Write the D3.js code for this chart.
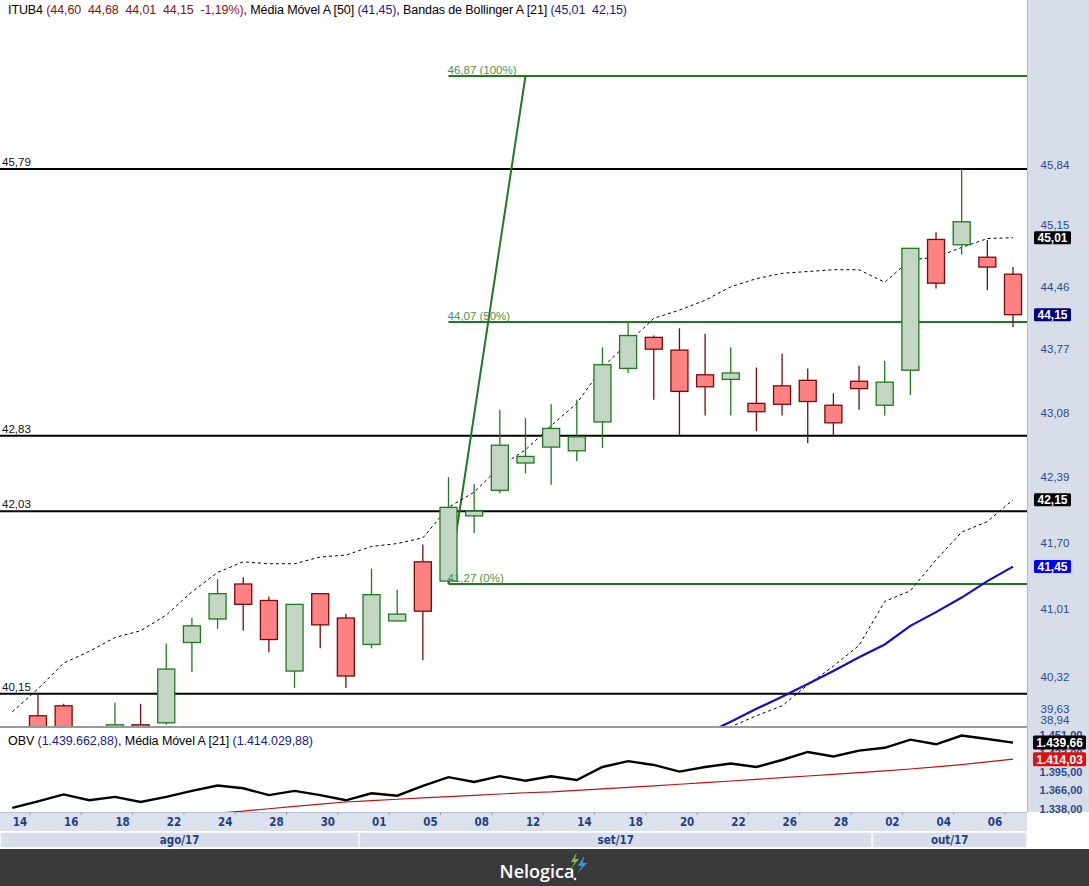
<!DOCTYPE html>
<html><head><meta charset="utf-8">
<script src="https://cdn.jsdelivr.net/npm/d3@7"></script>
<style>body{margin:0;background:#fff;} svg{display:block;}</style>
</head><body><div id="chart"></div>
<script>
// ---------------- DATA ----------------
const dates = ["2017-08-11","2017-08-14","2017-08-15","2017-08-16","2017-08-17","2017-08-18","2017-08-21","2017-08-22","2017-08-23","2017-08-24","2017-08-25","2017-08-28","2017-08-29","2017-08-30","2017-08-31","2017-09-01","2017-09-04","2017-09-05","2017-09-06","2017-09-08","2017-09-11","2017-09-12","2017-09-13","2017-09-14","2017-09-15","2017-09-18","2017-09-19","2017-09-20","2017-09-21","2017-09-22","2017-09-25","2017-09-26","2017-09-27","2017-09-28","2017-09-29","2017-10-02","2017-10-03","2017-10-04","2017-10-05","2017-10-06"];
const openV  = [null,39.93,40.03,39.74,39.70,39.84,39.86,40.67,40.91,41.27,41.10,40.38,41.17,40.92,40.65,40.89,41.50,41.30,41.98,42.25,42.54,42.71,42.67,42.98,43.56,43.90,43.76,43.49,43.44,43.18,43.37,43.43,43.16,43.42,43.16,43.54,44.99,44.93,44.79,44.60];
const highV  = [null,40.15,40.05,39.80,40.06,40.05,40.66,40.92,41.32,41.34,41.14,41.06,41.17,40.96,41.43,41.21,41.68,42.39,42.32,43.11,43.02,43.17,43.22,43.79,44.07,43.92,44.00,43.94,43.79,43.57,43.72,43.56,43.29,43.59,43.64,44.89,45.07,45.79,44.98,44.68];
const lowV   = [null,39.55,39.60,39.50,39.62,39.60,39.84,40.37,40.81,40.79,40.57,40.21,40.61,40.21,40.61,40.89,40.49,41.27,41.80,42.22,42.43,42.31,42.56,42.70,43.51,43.22,42.84,43.05,43.05,42.88,43.05,42.75,42.84,43.11,43.05,43.27,44.44,44.82,44.42,44.01];
const closeV = [null,39.68,39.72,39.62,39.84,39.66,40.40,40.84,41.17,41.06,40.70,41.06,40.85,40.33,41.16,40.96,40.99,42.07,42.03,42.73,42.61,42.91,42.82,43.60,43.92,43.77,43.31,43.36,43.51,43.09,43.17,43.20,42.97,43.34,43.41,44.89,44.50,45.19,44.68,44.15];
const bbUpper = [39.97,40.20,40.46,40.58,40.72,40.79,40.95,41.19,41.39,41.50,41.48,41.48,41.55,41.57,41.66,41.69,41.75,42.07,42.23,42.50,42.68,42.94,43.18,43.57,43.84,44.11,44.20,44.31,44.46,44.55,44.61,44.63,44.65,44.65,44.51,44.76,44.79,44.90,45.00,45.01];
const bbLower = [null,null,null,null,null,null,null,null,null,null,null,null,null,null,null,null,null,null,null,null,null,null,null,null,null,null,null,39.64,39.82,39.93,40.03,40.24,40.43,40.64,41.09,41.20,41.52,41.81,41.92,42.15];
const ma50    = [null,null,null,null,null,null,null,null,null,null,null,null,null,null,null,null,null,null,null,null,null,null,null,null,null,null,null,39.75,39.87,40.00,40.12,40.25,40.38,40.52,40.65,40.84,40.98,41.13,41.30,41.45];
// OBV in thousands
const obv   = [1339.2,1349.2,1359.8,1350.8,1356.1,1348.2,1356.1,1365.3,1373.6,1369.3,1358.8,1365.2,1358.8,1350.8,1361.5,1357.8,1373.0,1386.4,1379.0,1387.9,1381.0,1387.8,1382.1,1402.1,1411.0,1405.2,1395.0,1402.1,1407.5,1402.1,1412.8,1425.2,1418.2,1427.3,1431.6,1444.1,1437.0,1450.5,1445.2,1439.66];
const obvMa = [null,null,null,null,null,null,null,null,1331.0,1334.1,1337.8,1341.3,1345.0,1348.2,1350.4,1352.4,1354.4,1356.4,1358.4,1360.5,1362.4,1363.6,1366.1,1368.4,1370.7,1373.0,1375.5,1377.9,1380.5,1383.0,1385.6,1388.2,1390.7,1393.5,1396.1,1399.0,1402.1,1405.6,1409.8,1414.03];

const levelLines = [45.79, 42.83, 42.03, 40.15];
const fibValues = [41.27, 44.07, 46.87];
const fibPercents = ["0%", "50%", "100%"];
const fibStartDate = "2017-09-05", fibEndDate = "2017-09-11";
const priceTicks = [45.84, 45.15, 44.46, 43.77, 43.08, 42.39, 41.70, 41.01, 40.32, 39.63, 38.94];
const obvTicks = [1451, 1423, 1395, 1366, 1338];
const dayTickDates = ["2017-08-14","2017-08-16","2017-08-18","2017-08-22","2017-08-24","2017-08-28","2017-08-30","2017-09-01","2017-09-05","2017-09-08","2017-09-12","2017-09-14","2017-09-18","2017-09-20","2017-09-22","2017-09-26","2017-09-28","2017-10-02","2017-10-04","2017-10-06"];
const monthLabels = ["ago/17", "set/17", "out/17"];
const monthStarts = ["2017-08-11", "2017-09-01", "2017-10-02"];
const headerMain = [["ITUB4 ","#000"],["(44,60  44,68  44,01  44,15  -1,19%)","#8b1010"],[", Média Móvel A [50] ","#000"],["(41,45)","#1a1a8c"],[", Bandas de Bollinger A [21] ","#000"],["(45,01  42,15)","#1a1a8c"]];
const headerObv = [["OBV ","#000"],["(1.439.662,88)","#1a1a8c"],[", Média Móvel A [21] ","#000"],["(1.414.029,88)","#1a1a8c"]];

// ---------------- LAYOUT ----------------
const W = 1089, H = 886;
const plotR = 1027;
const mainTop = 20, mainBot = 726;
const obvTop = 728, obvBot = 812;
const font = "Liberation Sans, Arial, sans-serif";
const condFont = "DejaVu Sans Condensed, Liberation Sans Narrow, Arial Narrow, sans-serif";

const loc = d3.formatLocale({decimal: ",", thousands: ".", grouping: [3], currency: ["R$", ""]});
const f2 = loc.format(".2f");
const fk = loc.format(",.2f");

const svg = d3.select("#chart").append("svg").attr("width", W).attr("height", H)
  .style("font-family", font);

const x = d3.scalePoint().domain(dates).range([12.3, 1013]);
const y = d3.scaleLog().domain([41.27, 46.87]).range([584, 76]);
const yo = d3.scaleLinear().domain([1338, 1451]).range([808.6, 735.2]);

// backgrounds
svg.append("rect").attr("x", 0).attr("y", 0).attr("width", W).attr("height", H).attr("fill", "#fff");
svg.append("rect").attr("x", plotR).attr("y", 0).attr("width", W - plotR).attr("height", obvBot).attr("fill", "#d7dde9");
svg.append("line").attr("x1", plotR + 0.5).attr("x2", plotR + 0.5).attr("y1", 0).attr("y2", obvBot).attr("stroke", "#b4bccb");

const defs = svg.append("defs");
defs.append("clipPath").attr("id", "clipMain").append("rect").attr("x", 0).attr("y", mainTop).attr("width", plotR).attr("height", mainBot - mainTop);
defs.append("clipPath").attr("id", "clipObv").append("rect").attr("x", 0).attr("y", obvTop).attr("width", plotR).attr("height", obvBot - obvTop);

const idx = d3.range(dates.length);
const gMain = svg.append("g").attr("clip-path", "url(#clipMain)");

// horizontal level lines
levelLines.forEach(v => {
  gMain.append("line").attr("x1", 0).attr("x2", plotR).attr("y1", y(v)).attr("y2", y(v))
    .attr("stroke", "#000").attr("stroke-width", 2);
  svg.append("text").attr("x", 2).attr("y", y(v) - 3).attr("font-size", 11.5).attr("fill", "#111").text(f2(v));
});

// fibonacci
const fx0 = x(fibStartDate), fx1 = x(fibEndDate);
fibValues.forEach((v, i) => {
  gMain.append("line").attr("x1", fx0).attr("x2", plotR).attr("y1", y(v)).attr("y2", y(v))
    .attr("stroke", "#1f7a1f").attr("stroke-width", 2);
  svg.append("text").attr("x", fx0 - 1).attr("y", y(v) - 2).attr("font-size", 11.5).attr("fill", "#4a944a")
    .text(`${f2(v)} (${fibPercents[i]})`);
});
gMain.append("line").attr("x1", fx0).attr("y1", y(fibValues[0])).attr("x2", fx1).attr("y2", y(fibValues[2]))
  .attr("stroke", "#1f7a1f").attr("stroke-width", 2);

// Bollinger upper / lower (dashed)
const lineP = arr => d3.line().defined(i => arr[i] != null).x(i => x(dates[i])).y(i => y(arr[i]));
gMain.append("path").attr("d", lineP(bbUpper)(idx)).attr("fill", "none").attr("stroke", "#000")
  .attr("stroke-width", 1).attr("stroke-dasharray", "3,3");
gMain.append("path").attr("d", lineP(bbLower)(idx)).attr("fill", "none").attr("stroke", "#000")
  .attr("stroke-width", 1).attr("stroke-dasharray", "3,3");

// candles
const bw = 17;
const cg = gMain.selectAll("g.c").data(idx.filter(i => openV[i] != null)).join("g");
cg.append("line").attr("x1", i => x(dates[i])).attr("x2", i => x(dates[i]))
  .attr("y1", i => y(highV[i])).attr("y2", i => y(lowV[i]))
  .attr("stroke", i => closeV[i] >= openV[i] ? "#1f7a1f" : "#7a0a0a").attr("stroke-width", 1.3);
cg.append("rect").attr("x", i => x(dates[i]) - bw / 2)
  .attr("y", i => y(Math.max(openV[i], closeV[i])))
  .attr("width", bw)
  .attr("height", i => Math.max(1, y(Math.min(openV[i], closeV[i])) - y(Math.max(openV[i], closeV[i]))))
  .attr("fill", i => closeV[i] >= openV[i] ? "#c3d6c3" : "#ff8282")
  .attr("stroke", i => closeV[i] >= openV[i] ? "#1f7a1f" : "#7a0a0a").attr("stroke-width", 1.3);

// MA50
gMain.append("path").attr("d", lineP(ma50)(idx)).attr("fill", "none").attr("stroke", "#1010c8").attr("stroke-width", 2.2);

// header
const ht = svg.append("text").attr("x", 8).attr("y", 14).attr("font-size", 12.5)
  .attr("textLength", 619).attr("lengthAdjust", "spacing").style("white-space", "pre");
headerMain.forEach(([t, c]) => ht.append("tspan").attr("fill", c).text(t));

// price axis labels
const nT = priceTicks.length;
priceTicks.forEach((v, i) => {
  const yy = Math.min(y(v) + 4, 724 - (nT - 1 - i) * 11);
  svg.append("text").attr("x", 1055).attr("y", yy).attr("text-anchor", "middle")
    .attr("font-size", 11.5).attr("fill", "#2a4c8c").text(f2(v));
});
// price badges
const last = dates.length - 1;
const badges = [[bbUpper[last], "#000"], [closeV[last], "#000080"], [bbLower[last], "#000"], [ma50[last], "#0000ff"]];
badges.forEach(([v, c]) => {
  svg.append("rect").attr("x", 1034).attr("y", y(v) - 6.5).attr("width", 37).attr("height", 13).attr("rx", 1.5).attr("fill", c);
  svg.append("text").attr("x", 1052.5).attr("y", y(v) + 4.5).attr("text-anchor", "middle").attr("font-size", 12)
    .attr("font-weight", "bold").attr("fill", "#fff").text(f2(v));
});

// separator
svg.append("line").attr("x1", 0).attr("x2", plotR).attr("y1", 727).attr("y2", 727).attr("stroke", "#9a9a9a").attr("stroke-width", 2);

// OBV panel
const gObv = svg.append("g").attr("clip-path", "url(#clipObv)");
const lineO = arr => d3.line().defined(i => arr[i] != null).x(i => x(dates[i])).y(i => yo(arr[i]));
gObv.append("path").attr("d", lineO(obvMa)(idx)).attr("fill", "none").attr("stroke", "#c01010").attr("stroke-width", 1.2);
gObv.append("path").attr("d", lineO(obv)(idx)).attr("fill", "none").attr("stroke", "#000").attr("stroke-width", 2.4);
const ho = svg.append("text").attr("x", 8).attr("y", 745).attr("font-size", 12.5)
  .attr("textLength", 305).attr("lengthAdjust", "spacing");
headerObv.forEach(([t, c]) => ho.append("tspan").attr("fill", c).text(t));

// OBV tick labels (the ones behind the badges are partly hidden, as in the original)
obvTicks.forEach(v => {
  svg.append("text").attr("x", 1061).attr("y", yo(v) + 4).attr("text-anchor", "middle").attr("font-size", 11)
    .attr("font-weight", "bold").attr("fill", "#2a4c8c").text(fk(v));
});
[[obv[last], "#000"], [obvMa[last], "#e01010"]].forEach(([v, c]) => {
  svg.append("rect").attr("x", 1033).attr("y", yo(v) - 7).attr("width", 53).attr("height", 14).attr("rx", 1.5).attr("fill", c);
  svg.append("text").attr("x", 1059.5).attr("y", yo(v) + 4.5).attr("text-anchor", "middle").attr("font-size", 12)
    .attr("font-weight", "bold").attr("fill", "#fff").text(fk(v));
});

// day axis
svg.append("rect").attr("x", 0).attr("y", obvBot).attr("width", plotR).attr("height", 19).attr("fill", "#dce2ed");
svg.append("line").attr("x1", 0).attr("x2", plotR).attr("y1", obvBot + 0.5).attr("y2", obvBot + 0.5).attr("stroke", "#b8c0d0");
const pd = d3.timeParse("%Y-%m-%d"), fd = d3.timeFormat("%d");
dayTickDates.forEach(d => {
  svg.append("line").attr("x1", x(d) - 8).attr("x2", x(d) - 8).attr("y1", obvBot).attr("y2", obvBot + 3).attr("stroke", "#9aa4b8");
  svg.append("text").attr("x", x(d) - 18).attr("y", obvBot + 14).attr("text-anchor", "middle")
    .attr("font-family", condFont).attr("font-size", 11.5).attr("font-weight", "bold").attr("fill", "#1f3f7f").text(fd(pd(d)));
});

// month bar
monthLabels.forEach((m, i) => {
  const x0 = i === 0 ? 0 : x(monthStarts[i]) - 38;
  const x1 = i < monthLabels.length - 1 ? x(monthStarts[i + 1]) - 38 : plotR;
  svg.append("rect").attr("x", x0 + 0.5).attr("y", 832.5).attr("width", x1 - x0 - 1).attr("height", 15)
    .attr("fill", "#d8deea").attr("stroke", "#f4f6fa");
  svg.append("text").attr("x", (x0 + x1) / 2).attr("y", 844).attr("text-anchor", "middle")
    .attr("font-family", condFont).attr("font-size", 11.5).attr("font-weight", "bold").attr("fill", "#1f3f7f").text(m);
});

// footer
svg.append("rect").attr("x", 0).attr("y", 849).attr("width", W).attr("height", H - 849).attr("fill", "#3a3a3a");
svg.append("text").attr("x", 537).attr("y", 878).attr("text-anchor", "middle").attr("font-family", "Open Sans, sans-serif")
  .attr("font-size", 18).attr("font-weight", 600).attr("fill", "#fff").text("Nelogica");
svg.append("path").attr("d", "M577,852 L571,862 L575,862 L569,871 L579,859 L575,859 Z").attr("fill", "#7cc242");
svg.append("path").attr("d", "M584,856 L578,866 L582,866 L577,874 L587,863 L583,863 Z").attr("fill", "#2a9be0");
svg.append("circle").attr("cx", 575).attr("cy", 879).attr("r", 1.3).attr("fill", "#fff");
</script></body></html>
